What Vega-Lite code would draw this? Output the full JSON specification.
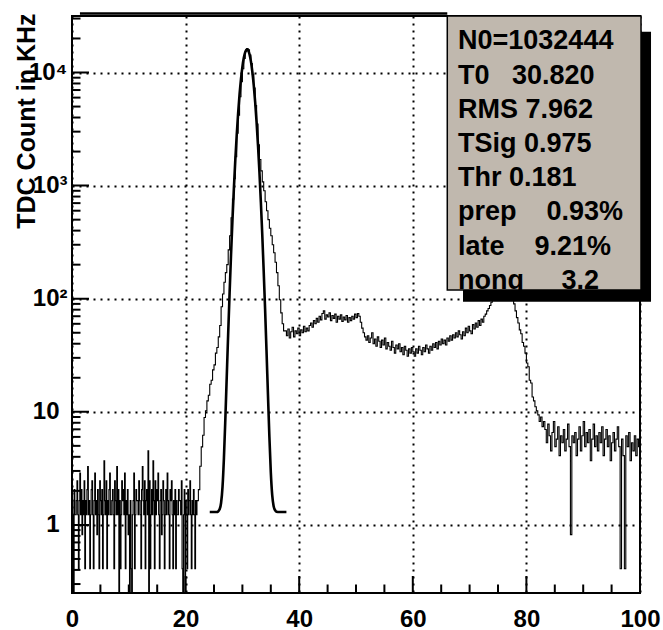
{
"$schema": "https://vega.github.io/schema/vega-lite/v6.json",
"width": 568, "height": 577,
"autosize": {"type": "none"},
"padding": {"left": 72, "top": 16, "right": 23, "bottom": 37},
"background": "white",
"config": {"view": {"stroke": "black", "strokeWidth": 2}, "font": "Liberation Sans"},
"datasets": {
"hist": [
{"t":0,"c":1.64},{"t":0.125,"c":1.23},{"t":0.25,"c":0},{"t":0.375,"c":2.05},{"t":0.5,"c":1.23},{"t":0.625,"c":1.23},{"t":0.75,"c":1.64},{"t":0.875,"c":2.46},
{"t":1,"c":1.23},{"t":1.125,"c":0.41},{"t":1.25,"c":1.64},{"t":1.375,"c":2.87},{"t":1.5,"c":1.23},{"t":1.625,"c":2.05},{"t":1.75,"c":0.82},{"t":1.875,"c":1.64},
{"t":2,"c":1.23},{"t":2.125,"c":2.46},{"t":2.25,"c":0.41},{"t":2.375,"c":1.64},{"t":2.5,"c":1.23},{"t":2.625,"c":2.05},{"t":2.75,"c":3.28},{"t":2.875,"c":1.23},
{"t":3,"c":1.64},{"t":3.125,"c":0.41},{"t":3.25,"c":1.23},{"t":3.375,"c":2.05},{"t":3.5,"c":2.46},{"t":3.625,"c":1.23},{"t":3.75,"c":0.41},{"t":3.875,"c":1.64},
{"t":4,"c":2.87},{"t":4.125,"c":1.23},{"t":4.25,"c":1.64},{"t":4.375,"c":0.82},{"t":4.5,"c":2.05},{"t":4.625,"c":1.23},{"t":4.75,"c":0.41},{"t":4.875,"c":2.46},
{"t":5,"c":1.64},{"t":5.125,"c":1.23},{"t":5.25,"c":2.05},{"t":5.375,"c":0.41},{"t":5.5,"c":1.23},{"t":5.625,"c":3.69},{"t":5.75,"c":1.64},{"t":5.875,"c":1.23},
{"t":6,"c":2.46},{"t":6.125,"c":0.41},{"t":6.25,"c":1.64},{"t":6.375,"c":1.23},{"t":6.5,"c":2.05},{"t":6.625,"c":2.87},{"t":6.75,"c":1.23},{"t":6.875,"c":1.23},
{"t":7,"c":1.64},{"t":7.125,"c":2.05},{"t":7.25,"c":1.23},{"t":7.375,"c":0.41},{"t":7.5,"c":2.46},{"t":7.625,"c":1.64},{"t":7.75,"c":1.23},{"t":7.875,"c":3.28},
{"t":8,"c":1.23},{"t":8.125,"c":2.05},{"t":8.25,"c":0},{"t":8.375,"c":1.64},{"t":8.5,"c":0.41},{"t":8.625,"c":1.23},{"t":8.75,"c":2.46},{"t":8.875,"c":1.64},
{"t":9,"c":2.05},{"t":9.125,"c":1.23},{"t":9.25,"c":2.87},{"t":9.375,"c":0.41},{"t":9.5,"c":1.64},{"t":9.625,"c":1.23},{"t":9.75,"c":2.05},{"t":9.875,"c":0.82},
{"t":10,"c":1.23},{"t":10.125,"c":0},{"t":10.25,"c":1.64},{"t":10.375,"c":0.41},{"t":10.5,"c":0},{"t":10.625,"c":1.23},{"t":10.75,"c":1.64},{"t":10.875,"c":2.87},
{"t":11,"c":0.41},{"t":11.125,"c":1.23},{"t":11.25,"c":2.05},{"t":11.375,"c":1.64},{"t":11.5,"c":1.64},{"t":11.625,"c":1.23},{"t":11.75,"c":2.46},{"t":11.875,"c":1.64},
{"t":12,"c":1.23},{"t":12.125,"c":0.41},{"t":12.25,"c":2.05},{"t":12.375,"c":3.28},{"t":12.5,"c":1.64},{"t":12.625,"c":1.23},{"t":12.75,"c":2.46},{"t":12.875,"c":0.41},
{"t":13,"c":1.64},{"t":13.125,"c":2.05},{"t":13.25,"c":1.23},{"t":13.375,"c":4.51},{"t":13.5,"c":0},{"t":13.625,"c":2.46},{"t":13.75,"c":0.41},{"t":13.875,"c":1.23},
{"t":14,"c":2.05},{"t":14.125,"c":1.23},{"t":14.25,"c":3.69},{"t":14.375,"c":1.64},{"t":14.5,"c":0.41},{"t":14.625,"c":2.46},{"t":14.75,"c":1.23},{"t":14.875,"c":2.05},
{"t":15,"c":1.64},{"t":15.125,"c":2.87},{"t":15.25,"c":1.23},{"t":15.375,"c":0.41},{"t":15.5,"c":1.64},{"t":15.625,"c":2.05},{"t":15.75,"c":0.82},{"t":15.875,"c":1.23},
{"t":16,"c":2.46},{"t":16.125,"c":1.64},{"t":16.25,"c":0.41},{"t":16.375,"c":1.23},{"t":16.5,"c":2.05},{"t":16.625,"c":1.23},{"t":16.75,"c":2.87},{"t":16.875,"c":1.64},
{"t":17,"c":1.23},{"t":17.125,"c":0.41},{"t":17.25,"c":2.05},{"t":17.375,"c":1.64},{"t":17.5,"c":2.46},{"t":17.625,"c":1.23},{"t":17.75,"c":0.41},{"t":17.875,"c":1.64},
{"t":18,"c":1.23},{"t":18.125,"c":2.05},{"t":18.25,"c":0.41},{"t":18.375,"c":1.64},{"t":18.5,"c":1.23},{"t":18.625,"c":1.23},{"t":18.75,"c":2.05},{"t":18.875,"c":1.64},
{"t":19,"c":1.64},{"t":19.125,"c":1.23},{"t":19.25,"c":2.46},{"t":19.375,"c":0.41},{"t":19.5,"c":0},{"t":19.625,"c":1.23},{"t":19.75,"c":2.05},{"t":19.875,"c":0},
{"t":20,"c":1.64},{"t":20.125,"c":1.23},{"t":20.25,"c":0.41},{"t":20.375,"c":2.05},{"t":20.5,"c":1.23},{"t":20.625,"c":1.64},{"t":20.75,"c":2.46},{"t":20.875,"c":1.23},
{"t":21,"c":0.41},{"t":21.125,"c":1.64},{"t":21.25,"c":1.23},{"t":21.375,"c":2.05},{"t":21.5,"c":1.23},{"t":21.625,"c":0.41},{"t":21.75,"c":1.64},{"t":21.875,"c":1.23},
{"t":22,"c":1.64},{"t":22.25,"c":2.05},{"t":22.5,"c":3.3},{"t":22.75,"c":4.9},{"t":23,"c":6.2},{"t":23.25,"c":8.9},{"t":23.5,"c":10.2},{"t":23.75,"c":12.5},
{"t":24,"c":14},{"t":24.25,"c":17.5},{"t":24.5,"c":19},{"t":24.75,"c":23.5},{"t":25,"c":26},{"t":25.25,"c":33},{"t":25.5,"c":37},{"t":25.75,"c":46},
{"t":26,"c":58},{"t":26.25,"c":85},{"t":26.5,"c":110},{"t":26.75,"c":140},{"t":27,"c":170},{"t":27.25,"c":200},{"t":27.5,"c":270},{"t":27.75,"c":360},
{"t":28,"c":520},{"t":28.25,"c":760},{"t":28.5,"c":1150},{"t":28.75,"c":1800},{"t":29,"c":2900},{"t":29.25,"c":4200},{"t":29.5,"c":6100},{"t":29.75,"c":8300},
{"t":30,"c":10800},{"t":30.25,"c":13300},{"t":30.5,"c":15400},{"t":30.75,"c":16300},{"t":31,"c":15900},{"t":31.25,"c":14300},{"t":31.5,"c":12000},{"t":31.75,"c":9600},
{"t":32,"c":7300},{"t":32.25,"c":5100},{"t":32.5,"c":3500},{"t":32.75,"c":2300},{"t":33,"c":1700},{"t":33.25,"c":1350},{"t":33.5,"c":1080},{"t":33.75,"c":900},
{"t":34,"c":720},{"t":34.25,"c":600},{"t":34.5,"c":500},{"t":34.75,"c":420},{"t":35,"c":360},{"t":35.25,"c":300},{"t":35.5,"c":255},{"t":35.75,"c":210},
{"t":36,"c":170},{"t":36.25,"c":130},{"t":36.5,"c":98},{"t":36.75,"c":75},{"t":37,"c":60},{"t":37.25,"c":52},
{"t":37.5,"c":52},{"t":37.75,"c":47},{"t":38,"c":54},{"t":38.25,"c":45},{"t":38.5,"c":51},{"t":38.75,"c":56},{"t":39,"c":46},{"t":39.25,"c":52},
{"t":39.5,"c":49},{"t":39.75,"c":55},{"t":40,"c":47},{"t":40.25,"c":53},{"t":40.5,"c":50},{"t":40.75,"c":57},{"t":41,"c":51},{"t":41.25,"c":55},
{"t":41.5,"c":52},{"t":41.75,"c":58},{"t":42,"c":61},{"t":42.25,"c":56},{"t":42.5,"c":64},{"t":42.75,"c":60},{"t":43,"c":67},{"t":43.25,"c":62},
{"t":43.5,"c":70},{"t":43.75,"c":65},{"t":44,"c":74},{"t":44.25,"c":78},{"t":44.5,"c":66},{"t":44.75,"c":72},{"t":45,"c":69},{"t":45.25,"c":75},
{"t":45.5,"c":64},{"t":45.75,"c":71},{"t":46,"c":67},{"t":46.25,"c":73},{"t":46.5,"c":62},{"t":46.75,"c":70},{"t":47,"c":66},{"t":47.25,"c":72},
{"t":47.5,"c":63},{"t":47.75,"c":69},{"t":48,"c":65},{"t":48.25,"c":71},{"t":48.5,"c":62},{"t":48.75,"c":68},{"t":49,"c":64},{"t":49.25,"c":70},
{"t":49.5,"c":66},{"t":49.75,"c":73},{"t":50,"c":68},{"t":50.25,"c":74},{"t":50.5,"c":70},{"t":50.75,"c":62},{"t":51,"c":55},{"t":51.25,"c":50},
{"t":51.5,"c":46},{"t":51.75,"c":43},{"t":52,"c":47},{"t":52.25,"c":41},{"t":52.5,"c":45},{"t":52.75,"c":50},{"t":53,"c":40},{"t":53.25,"c":44},
{"t":53.5,"c":38},{"t":53.75,"c":46},{"t":54,"c":42},{"t":54.25,"c":37},{"t":54.5,"c":43},{"t":54.75,"c":39},{"t":55,"c":45},{"t":55.25,"c":36},
{"t":55.5,"c":41},{"t":55.75,"c":38},{"t":56,"c":35},{"t":56.25,"c":42},{"t":56.5,"c":37},{"t":56.75,"c":33},{"t":57,"c":39},{"t":57.25,"c":36},
{"t":57.5,"c":40},{"t":57.75,"c":34},{"t":58,"c":37},{"t":58.25,"c":32},{"t":58.5,"c":38},{"t":58.75,"c":35},{"t":59,"c":31},{"t":59.25,"c":36},
{"t":59.5,"c":33},{"t":59.75,"c":37},{"t":60,"c":34},{"t":60.25,"c":31},{"t":60.5,"c":36},{"t":60.75,"c":33},{"t":61,"c":38},{"t":61.25,"c":35},
{"t":61.5,"c":32},{"t":61.75,"c":37},{"t":62,"c":34},{"t":62.25,"c":39},{"t":62.5,"c":36},{"t":62.75,"c":33},{"t":63,"c":38},{"t":63.25,"c":35},
{"t":63.5,"c":40},{"t":63.75,"c":37},{"t":64,"c":41},{"t":64.25,"c":36},{"t":64.5,"c":42},{"t":64.75,"c":39},{"t":65,"c":44},{"t":65.25,"c":40},
{"t":65.5,"c":43},{"t":65.75,"c":39},{"t":66,"c":45},{"t":66.25,"c":42},{"t":66.5,"c":47},{"t":66.75,"c":43},{"t":67,"c":48},{"t":67.25,"c":45},
{"t":67.5,"c":50},{"t":67.75,"c":46},{"t":68,"c":52},{"t":68.25,"c":48},{"t":68.5,"c":44},{"t":68.75,"c":51},{"t":69,"c":47},{"t":69.25,"c":55},
{"t":69.5,"c":50},{"t":69.75,"c":57},{"t":70,"c":52},{"t":70.25,"c":49},{"t":70.5,"c":59},{"t":70.75,"c":54},{"t":71,"c":61},{"t":71.25,"c":56},
{"t":71.5,"c":64},{"t":71.75,"c":58},{"t":72,"c":66},{"t":72.25,"c":62},{"t":72.5,"c":70},{"t":72.75,"c":73},{"t":73,"c":78},{"t":73.25,"c":82},
{"t":73.5,"c":87},{"t":73.75,"c":93},{"t":74,"c":100},{"t":74.25,"c":108},{"t":74.5,"c":118},{"t":74.75,"c":130},{"t":75,"c":142},{"t":75.25,"c":155},
{"t":75.5,"c":165},{"t":75.75,"c":172},{"t":76,"c":175},{"t":76.25,"c":170},{"t":76.5,"c":160},{"t":76.75,"c":145},{"t":77,"c":128},{"t":77.25,"c":112},
{"t":77.5,"c":100},{"t":77.75,"c":90},{"t":78,"c":78},{"t":78.25,"c":68},{"t":78.5,"c":61},{"t":78.75,"c":53},{"t":79,"c":49},{"t":79.25,"c":41},
{"t":79.5,"c":38},{"t":79.75,"c":33},{"t":80,"c":27},{"t":80.25,"c":25},{"t":80.5,"c":19},{"t":80.75,"c":18},{"t":81,"c":13.5},{"t":81.25,"c":12.5},
{"t":81.5,"c":11.1},{"t":81.75,"c":10.2},{"t":82,"c":9.4},{"t":82.25,"c":8.2},{"t":82.5,"c":9},{"t":82.75,"c":7.4},{"t":83,"c":8.2},{"t":83.25,"c":6.97},
{"t":83.5,"c":5.33},{"t":83.75,"c":7.79},{"t":84,"c":6.15},{"t":84.25,"c":4.51},{"t":84.5,"c":6.56},{"t":84.75,"c":8.2},{"t":85,"c":4.92},{"t":85.25,"c":5.74},
{"t":85.5,"c":7.38},{"t":85.75,"c":4.1},{"t":86,"c":6.15},{"t":86.25,"c":5.33},{"t":86.5,"c":6.97},{"t":86.75,"c":4.51},{"t":87,"c":5.74},{"t":87.25,"c":7.79},
{"t":87.5,"c":4.92},{"t":87.75,"c":0.82},{"t":88,"c":6.15},{"t":88.25,"c":5.33},{"t":88.5,"c":6.56},{"t":88.75,"c":4.1},{"t":89,"c":5.74},{"t":89.25,"c":7.38},
{"t":89.5,"c":4.51},{"t":89.75,"c":6.15},{"t":90,"c":8.2},{"t":90.25,"c":4.92},{"t":90.5,"c":6.56},{"t":90.75,"c":5.33},{"t":91,"c":6.97},{"t":91.25,"c":3.69},
{"t":91.5,"c":5.74},{"t":91.75,"c":7.79},{"t":92,"c":4.92},{"t":92.25,"c":6.15},{"t":92.5,"c":4.51},{"t":92.75,"c":6.56},{"t":93,"c":5.33},{"t":93.25,"c":7.38},
{"t":93.5,"c":4.1},{"t":93.75,"c":5.74},{"t":94,"c":6.97},{"t":94.25,"c":4.92},{"t":94.5,"c":6.15},{"t":94.75,"c":3.69},{"t":95,"c":5.33},{"t":95.25,"c":6.56},
{"t":95.5,"c":4.51},{"t":95.75,"c":5.74},{"t":96,"c":7.38},{"t":96.25,"c":4.92},{"t":96.5,"c":0.41},{"t":96.75,"c":5.74},{"t":97,"c":4.1},{"t":97.25,"c":0.41},
{"t":97.5,"c":6.15},{"t":97.75,"c":4.92},{"t":98,"c":6.56},{"t":98.25,"c":3.69},{"t":98.5,"c":5.33},{"t":98.75,"c":4.51},{"t":99,"c":6.15},{"t":99.25,"c":4.1},
{"t":99.5,"c":5.74},{"t":99.75,"c":4.92},{"t":100,"c":4.92}
],
"fit": [
{"t":24.25,"f":1.3},{"t":25,"f":1.3},{"t":25.5,"f":1.3},{"t":26,"f":1.38},{"t":26.25,"f":1.57},{"t":26.5,"f":2.17},{"t":26.75,"f":3.93},{"t":27,"f":8.7},
{"t":27.25,"f":20.9},{"t":27.5,"f":49.8},{"t":27.75,"f":113.8},{"t":28,"f":246},{"t":28.25,"f":497},{"t":28.5,"f":945},{"t":28.75,"f":1680},{"t":29,"f":2803},
{"t":29.25,"f":4376},{"t":29.5,"f":6399},{"t":29.75,"f":8760},{"t":30,"f":11234},{"t":30.25,"f":13487},{"t":30.5,"f":15160},{"t":30.75,"f":15959},{"t":31,"f":15730},
{"t":31.25,"f":14517},{"t":31.5,"f":12546},{"t":31.75,"f":10152},{"t":32,"f":7691},{"t":32.25,"f":5458},{"t":32.5,"f":3626},{"t":32.75,"f":2254},{"t":33,"f":1313},
{"t":33.25,"f":716},{"t":33.5,"f":366},{"t":33.75,"f":175},{"t":34,"f":79.6},{"t":34.25,"f":34.1},{"t":34.5,"f":14.2},{"t":34.75,"f":6.04},{"t":35,"f":2.93},
{"t":35.25,"f":1.83},{"t":35.5,"f":1.46},{"t":35.75,"f":1.35},{"t":36,"f":1.31},{"t":36.5,"f":1.3},{"t":37,"f":1.3},{"t":37.75,"f":1.3}
],
"xmaj": [{"v":20},{"v":40},{"v":60},{"v":80}],
"xmin": [{"v":5},{"v":10},{"v":15},{"v":25},{"v":30},{"v":35},{"v":45},{"v":50},{"v":55},{"v":65},{"v":70},{"v":75},{"v":85},{"v":90},{"v":95}],
"ymaj": [{"v":1},{"v":10},{"v":100},{"v":1000},{"v":10000}],
"ymin": [{"v":0.3},{"v":0.4},{"v":0.5},{"v":0.6},{"v":0.7},{"v":0.8},{"v":0.9},{"v":2},{"v":3},{"v":4},{"v":5},{"v":6},{"v":7},{"v":8},{"v":9},
{"v":20},{"v":30},{"v":40},{"v":50},{"v":60},{"v":70},{"v":80},{"v":90},{"v":200},{"v":300},{"v":400},{"v":500},{"v":600},{"v":700},{"v":800},{"v":900},
{"v":2000},{"v":3000},{"v":4000},{"v":5000},{"v":6000},{"v":7000},{"v":8000},{"v":9000},{"v":20000},{"v":30000}]
},
"resolve": {"axis": {"x": "independent", "y": "independent"}},
"layer": [
{
"data": {"name": "hist"},
"mark": {"type": "line", "interpolate": "step-after", "color": "black", "strokeWidth": 1.1, "clip": true, "invalid": "show"},
"encoding": {
"x": {"field": "t", "type": "quantitative", "scale": {"domain": [0, 100], "nice": false, "zero": false},
"axis": {"values": [0, 20, 40, 60, 80, 100], "grid": true, "gridDash": [2, 5], "gridColor": "black", "gridWidth": 2, "gridOpacity": 1,
"ticks": false, "labelPadding": 14, "labelFontSize": 24, "labelFontWeight": "bold", "labelFont": "Liberation Sans",
"labelColor": "black", "labelFlush": false, "labelOverlap": false, "domain": false, "title": null}},
"y": {"field": "c", "type": "quantitative", "scale": {"type": "log", "domain": [0.25, 31600], "nice": false, "clamp": true},
"axis": {"values": [1, 10, 100, 1000, 10000], "grid": true, "gridDash": [2, 5], "gridColor": "black", "gridWidth": 2, "gridOpacity": 1,
"ticks": false, "labelPadding": {"condition": {"test": "datum.value >= 100", "value": 5}, "value": 13}, "labelFontSize": 24, "labelFontWeight": "bold", "labelFont": "Liberation Sans",
"labelColor": "black", "labelOverlap": false, "labelFlush": false, "domain": false,
"labelExpr": "datum.value == 100 ? '10²' : datum.value == 1000 ? '10³' : datum.value == 10000 ? '10⁴' : datum.value == 10 ? '10' : '1'",
"title": "TDC Count in KHz", "titleX": -46, "titleY": -3, "titleAngle": -90, "titleAlign": "right", "titleBaseline": "middle",
"titleFontSize": 25, "titleFontWeight": "bold", "titleFont": "Liberation Sans", "titleColor": "black"}}
}
},
{
"data": {"name": "fit"},
"mark": {"type": "line", "interpolate": "monotone", "color": "black", "strokeWidth": 2.6, "clip": true},
"encoding": {
"x": {"field": "t", "type": "quantitative", "scale": {"domain": [0, 100], "nice": false, "zero": false}, "axis": null},
"y": {"field": "f", "type": "quantitative", "scale": {"type": "log", "domain": [0.25, 31600], "nice": false, "clamp": true}, "axis": null}
}
},
{
"data": {"name": "xmaj"},
"mark": {"type": "tick", "orient": "vertical", "color": "black", "opacity": 1, "size": 34, "thickness": 2, "clip": true},
"encoding": {
"x": {"field": "v", "type": "quantitative", "scale": {"domain": [0, 100], "nice": false, "zero": false}, "axis": null},
"y": {"datum": 0.25, "type": "quantitative", "scale": {"type": "log", "domain": [0.25, 31600], "nice": false, "clamp": true}, "axis": null}
}
},
{
"data": {"name": "xmin"},
"mark": {"type": "tick", "orient": "vertical", "color": "black", "opacity": 1, "size": 17, "thickness": 2, "clip": true},
"encoding": {
"x": {"field": "v", "type": "quantitative", "scale": {"domain": [0, 100], "nice": false, "zero": false}, "axis": null},
"y": {"datum": 0.25, "type": "quantitative", "scale": {"type": "log", "domain": [0.25, 31600], "nice": false, "clamp": true}, "axis": null}
}
},
{
"data": {"name": "ymaj"},
"mark": {"type": "tick", "orient": "horizontal", "color": "black", "opacity": 1, "size": 34, "thickness": 2, "clip": true},
"encoding": {
"x": {"datum": 0, "type": "quantitative", "scale": {"domain": [0, 100], "nice": false, "zero": false}, "axis": null},
"y": {"field": "v", "type": "quantitative", "scale": {"type": "log", "domain": [0.25, 31600], "nice": false, "clamp": true}, "axis": null}
}
},
{
"data": {"name": "ymin"},
"mark": {"type": "tick", "orient": "horizontal", "color": "black", "opacity": 1, "size": 17, "thickness": 2, "clip": true},
"encoding": {
"x": {"datum": 0, "type": "quantitative", "scale": {"domain": [0, 100], "nice": false, "zero": false}, "axis": null},
"y": {"field": "v", "type": "quantitative", "scale": {"type": "log", "domain": [0.25, 31600], "nice": false, "clamp": true}, "axis": null}
}
},
{
"data": {"values": [{}]},
"mark": {"type": "rect", "color": "black", "clip": false},
"encoding": {
"x": {"datum": 68.84, "type": "quantitative", "scale": {"domain": [0, 100], "nice": false, "zero": false}, "axis": null},
"x2": {"datum": 101.94},
"y": {"datum": 94.1, "type": "quantitative", "scale": {"type": "log", "domain": [0.25, 31600], "nice": false, "clamp": true}, "axis": null},
"y2": {"datum": 22960}
}
},
{
"data": {"values": [{}]},
"mark": {"type": "rect", "fill": "#c0b8ae", "stroke": "black", "strokeWidth": 1.5, "clip": false},
"encoding": {
"x": {"datum": 66.07, "type": "quantitative", "scale": {"domain": [0, 100], "nice": false, "zero": false}, "axis": null},
"x2": {"datum": 100.18},
"y": {"datum": 119.5, "type": "quantitative", "scale": {"type": "log", "domain": [0.25, 31600], "nice": false, "clamp": true}, "axis": null},
"y2": {"datum": 31600}
}
},
{
"data": {"values": [{}]},
"mark": {"type": "text", "align": "left", "baseline": "alphabetic", "font": "Liberation Sans", "fontWeight": "bold", "fontSize": 27, "lineBreak": "\n", "lineHeight": 34.2, "color": "black", "clip": false},
"encoding": {
"x": {"datum": 67.96, "type": "quantitative", "scale": {"domain": [0, 100], "nice": false, "zero": false}, "axis": null},
"y": {"datum": 15980, "type": "quantitative", "scale": {"type": "log", "domain": [0.25, 31600], "nice": false, "clamp": true}, "axis": null},
"text": {"value": "N0=1032444\nT0\u00a0\u00a0\u00a030.820\nRMS\u00a07.962\nTSig\u00a00.975\nThr\u00a00.181\nprep\u00a0\u00a0\u00a0\u00a00.93%\nlate\u00a0\u00a0\u00a0\u00a09.21%\n\u00a0nong\u00a0\u00a0\u00a0\u00a0\u00a03.2"}
}
},
{
"data": {"values": [{}]},
"mark": {"type": "rule", "color": "black", "strokeWidth": 2.5, "yOffset": -2.5, "clip": false},
"encoding": {
"x": {"datum": 1.4, "type": "quantitative", "scale": {"domain": [0, 100], "nice": false, "zero": false}, "axis": null},
"x2": {"datum": 66.07},
"y": {"datum": 31600, "type": "quantitative", "scale": {"type": "log", "domain": [0.25, 31600], "nice": false, "clamp": true}, "axis": null}
}
}
]
}
